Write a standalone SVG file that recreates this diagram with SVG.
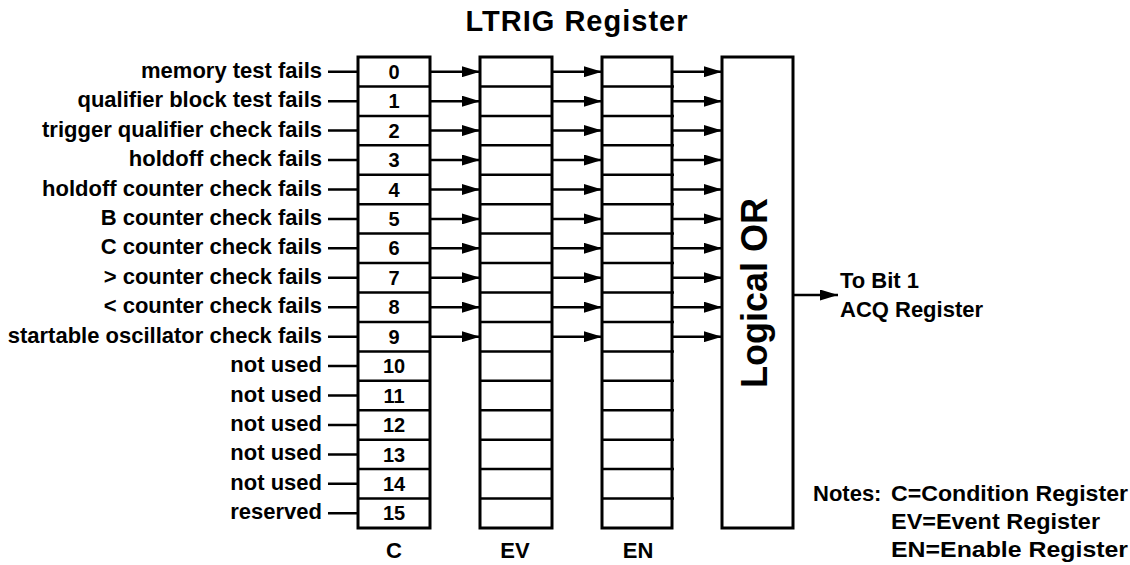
<svg xmlns="http://www.w3.org/2000/svg" width="1130" height="565" viewBox="0 0 1130 565">
<style>
text{font-family:"Liberation Sans",Arial,Helvetica,sans-serif;font-weight:bold;fill:#000}
.lbl{font-size:22px;text-anchor:end}
.dig{font-size:20px;text-anchor:middle}
.col{font-size:22px;text-anchor:middle}
.note{font-size:22px}
.box{fill:#fff;stroke:#000;stroke-width:3}
.sep{stroke:#000;stroke-width:2.5}
.wire{stroke:#000;stroke-width:2.5;fill:none}
.arr{stroke:#000;stroke-width:2.5;fill:none;marker-end:url(#ah)}
</style>
<defs>
<marker id="ah" markerUnits="userSpaceOnUse" markerWidth="18" markerHeight="11" refX="18" refY="5.5" orient="auto">
<path d="M0,0 L18,5.5 L0,11 z" fill="#000"/>
</marker>
<g id="rows">
<line class="sep" x1="0" y1="86.4" x2="72" y2="86.4"/>
<line class="sep" x1="0" y1="115.9" x2="72" y2="115.9"/>
<line class="sep" x1="0" y1="145.3" x2="72" y2="145.3"/>
<line class="sep" x1="0" y1="174.8" x2="72" y2="174.8"/>
<line class="sep" x1="0" y1="204.2" x2="72" y2="204.2"/>
<line class="sep" x1="0" y1="233.6" x2="72" y2="233.6"/>
<line class="sep" x1="0" y1="263.1" x2="72" y2="263.1"/>
<line class="sep" x1="0" y1="292.5" x2="72" y2="292.5"/>
<line class="sep" x1="0" y1="321.9" x2="72" y2="321.9"/>
<line class="sep" x1="0" y1="351.4" x2="72" y2="351.4"/>
<line class="sep" x1="0" y1="380.8" x2="72" y2="380.8"/>
<line class="sep" x1="0" y1="410.3" x2="72" y2="410.3"/>
<line class="sep" x1="0" y1="439.7" x2="72" y2="439.7"/>
<line class="sep" x1="0" y1="469.1" x2="72" y2="469.1"/>
<line class="sep" x1="0" y1="498.6" x2="72" y2="498.6"/>
</g>
</defs>

<text id="title" x="577" y="31" font-size="29" text-anchor="middle" letter-spacing="1">LTRIG Register</text>

<g id="inputs">
<text class="lbl" x="322" y="77.7">memory test fails</text>
<text class="lbl" x="322" y="107.2">qualifier block test fails</text>
<text class="lbl" x="322" y="136.6">trigger qualifier check fails</text>
<text class="lbl" x="322" y="166">holdoff check fails</text>
<text class="lbl" x="322" y="195.5">holdoff counter check fails</text>
<text class="lbl" x="322" y="224.9">B counter check fails</text>
<text class="lbl" x="322" y="254.3">C counter check fails</text>
<text class="lbl" x="322" y="283.8">&gt; counter check fails</text>
<text class="lbl" x="322" y="313.2">&lt; counter check fails</text>
<text class="lbl" x="322" y="342.7">startable oscillator check fails</text>
<text class="lbl" x="322" y="372.1">not used</text>
<text class="lbl" x="322" y="401.5">not used</text>
<text class="lbl" x="322" y="431">not used</text>
<text class="lbl" x="322" y="460.4">not used</text>
<text class="lbl" x="322" y="489.8">not used</text>
<text class="lbl" x="322" y="519.3">reserved</text>
</g>

<g id="C">
<rect class="box" x="358" y="57" width="72" height="471"/>
<use href="#rows" x="358"/>
<text class="dig" x="394" y="78.8">0</text>
<text class="dig" x="394" y="108.3">1</text>
<text class="dig" x="394" y="137.7">2</text>
<text class="dig" x="394" y="167.1">3</text>
<text class="dig" x="394" y="196.6">4</text>
<text class="dig" x="394" y="226">5</text>
<text class="dig" x="394" y="255.4">6</text>
<text class="dig" x="394" y="284.9">7</text>
<text class="dig" x="394" y="314.3">8</text>
<text class="dig" x="394" y="343.8">9</text>
<text class="dig" x="394" y="373.2">10</text>
<text class="dig" x="394" y="402.6">11</text>
<text class="dig" x="394" y="432.1">12</text>
<text class="dig" x="394" y="461.5">13</text>
<text class="dig" x="394" y="490.9">14</text>
<text class="dig" x="394" y="520.4">15</text>
<text class="col" x="394" y="558">C</text>
</g>

<g id="EV">
<rect class="box" x="480" y="57" width="72" height="471"/>
<use href="#rows" x="480"/>
<text class="col" x="515" y="558">EV</text>
</g>

<g id="EN">
<rect class="box" x="602" y="57" width="70" height="471"/>
<use href="#rows" x="602"/>
<text class="col" x="638" y="558">EN</text>
</g>

<g id="OR">
<rect class="box" x="722" y="57" width="71" height="471"/>
<text transform="translate(767,293) rotate(-90)" font-size="36" text-anchor="middle">Logical OR</text>
</g>

<g id="output">
<text class="note" x="840" y="288">To Bit 1</text>
<text class="note" x="840" y="317">ACQ Register</text>
</g>

<g id="notes">
<text class="note" x="813" y="501">Notes:</text>
<text class="note" x="891" y="501" textLength="237" lengthAdjust="spacingAndGlyphs">C=Condition Register</text>
<text class="note" x="891" y="529" textLength="209" lengthAdjust="spacingAndGlyphs">EV=Event Register</text>
<text class="note" x="891" y="557" textLength="237" lengthAdjust="spacingAndGlyphs">EN=Enable Register</text>
</g>

<g id="connectors">
<path class="wire" d="M328,71.7H358M328,101.2H358M328,130.6H358M328,160H358M328,189.5H358M328,218.9H358M328,248.3H358M328,277.8H358M328,307.2H358M328,336.7H358M328,366.1H358M328,395.5H358M328,425H358M328,454.4H358M328,483.8H358M328,513.3H358"/>
<line class="arr" x1="430" y1="71.7" x2="480" y2="71.7"/>
<line class="arr" x1="430" y1="101.2" x2="480" y2="101.2"/>
<line class="arr" x1="430" y1="130.6" x2="480" y2="130.6"/>
<line class="arr" x1="430" y1="160" x2="480" y2="160"/>
<line class="arr" x1="430" y1="189.5" x2="480" y2="189.5"/>
<line class="arr" x1="430" y1="218.9" x2="480" y2="218.9"/>
<line class="arr" x1="430" y1="248.3" x2="480" y2="248.3"/>
<line class="arr" x1="430" y1="277.8" x2="480" y2="277.8"/>
<line class="arr" x1="430" y1="307.2" x2="480" y2="307.2"/>
<line class="arr" x1="430" y1="336.7" x2="480" y2="336.7"/>
<line class="arr" x1="552" y1="71.7" x2="602" y2="71.7"/>
<line class="arr" x1="552" y1="101.2" x2="602" y2="101.2"/>
<line class="arr" x1="552" y1="130.6" x2="602" y2="130.6"/>
<line class="arr" x1="552" y1="160" x2="602" y2="160"/>
<line class="arr" x1="552" y1="189.5" x2="602" y2="189.5"/>
<line class="arr" x1="552" y1="218.9" x2="602" y2="218.9"/>
<line class="arr" x1="552" y1="248.3" x2="602" y2="248.3"/>
<line class="arr" x1="552" y1="277.8" x2="602" y2="277.8"/>
<line class="arr" x1="552" y1="307.2" x2="602" y2="307.2"/>
<line class="arr" x1="552" y1="336.7" x2="602" y2="336.7"/>
<line class="arr" x1="672" y1="71.7" x2="722" y2="71.7"/>
<line class="arr" x1="672" y1="101.2" x2="722" y2="101.2"/>
<line class="arr" x1="672" y1="130.6" x2="722" y2="130.6"/>
<line class="arr" x1="672" y1="160" x2="722" y2="160"/>
<line class="arr" x1="672" y1="189.5" x2="722" y2="189.5"/>
<line class="arr" x1="672" y1="218.9" x2="722" y2="218.9"/>
<line class="arr" x1="672" y1="248.3" x2="722" y2="248.3"/>
<line class="arr" x1="672" y1="277.8" x2="722" y2="277.8"/>
<line class="arr" x1="672" y1="307.2" x2="722" y2="307.2"/>
<line class="arr" x1="672" y1="336.7" x2="722" y2="336.7"/>
<line class="arr" x1="793" y1="295" x2="838" y2="295"/>
</g>
</svg>
